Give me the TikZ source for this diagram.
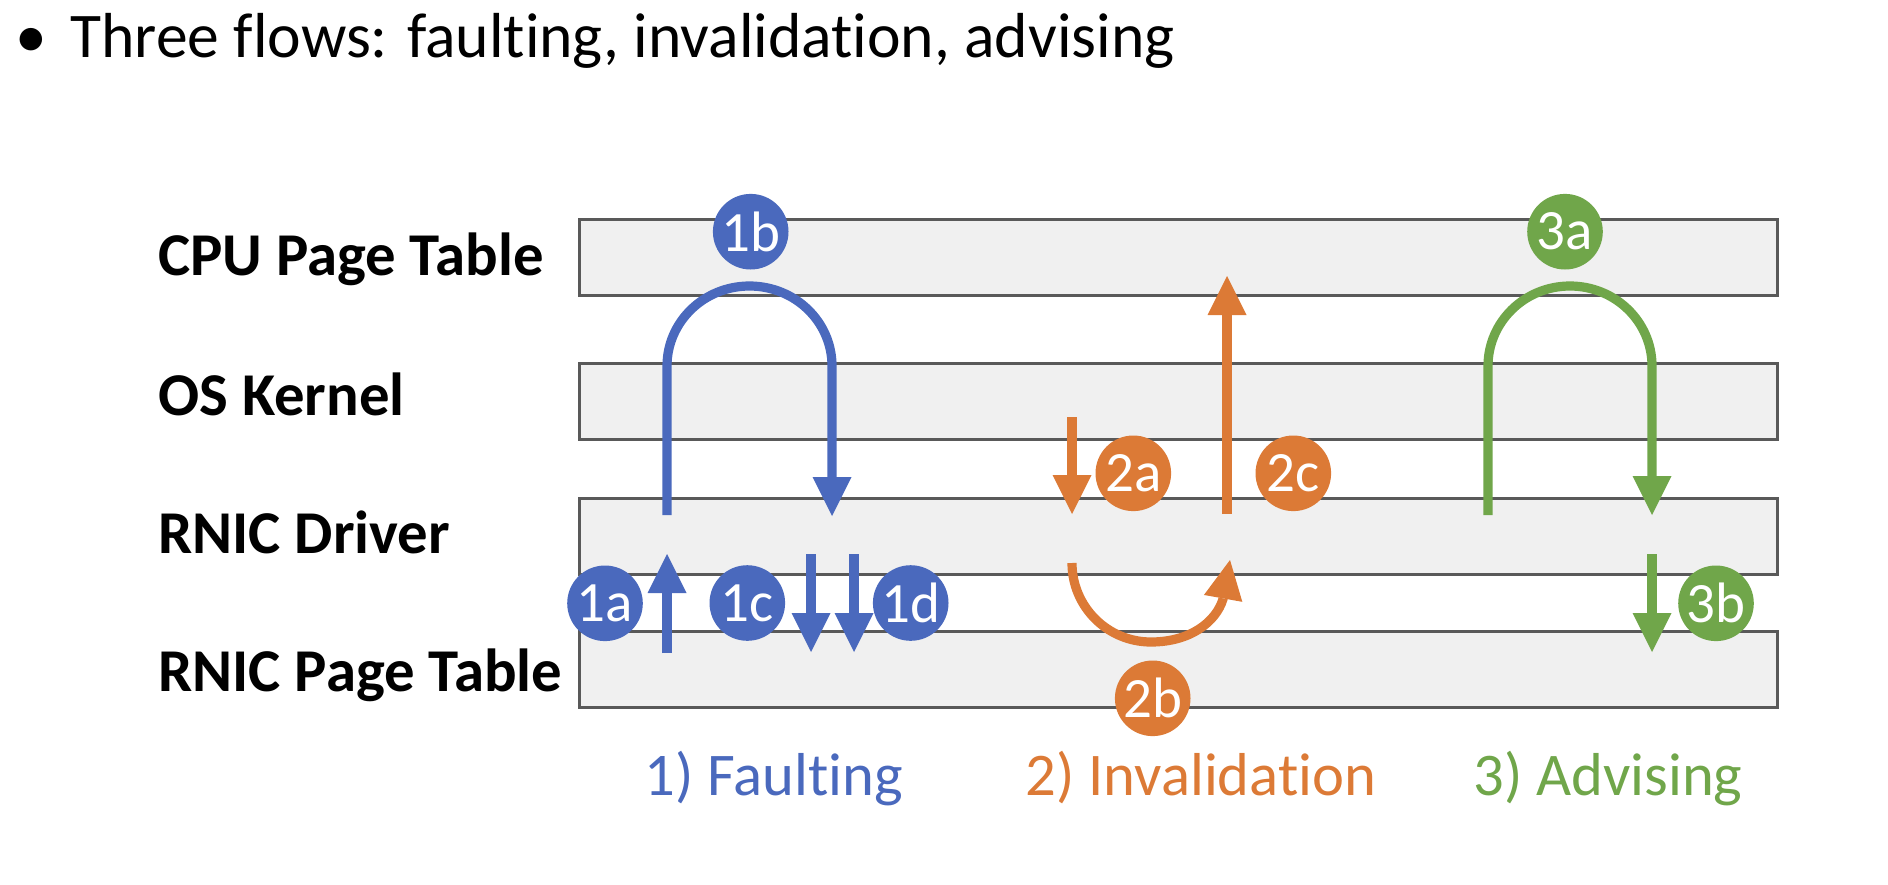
\documentclass[tikz,border=0pt]{standalone}
\usepackage{fontspec}
\setmainfont{Carlito}[Ligatures=NoCommon]
\usetikzlibrary{arrows.meta}
\definecolor{fblue}{HTML}{4A69BD}
\definecolor{forange}{HTML}{DC7A36}
\definecolor{fgreen}{HTML}{70A64A}
\definecolor{barfill}{HTML}{F0F0F0}
\definecolor{barline}{HTML}{595959}

\begin{document}
\begin{tikzpicture}[x=0.5pt,y=0.5pt,
  bar/.style={draw=barline, line width=1.5pt, fill=barfill, minimum width=599pt,
    minimum height=38pt, inner sep=0pt, outer sep=0pt},
  layername/.style={anchor=base west, inner sep=0pt,
    font=\fontsize{30.4pt}{36pt}\selectfont\bfseries},
  badge/.style={circle, fill=#1, text=white, minimum size=37.8pt, inner sep=0pt,
    font=\fontsize{28.5pt}{32pt}\selectfont},
  flow/.style={draw=#1, line width=4.6pt,
    -{Triangle[width=19.5pt,length=19.5pt,line width=0pt]}},
  flowcap/.style={anchor=base, inner sep=0pt, text=#1,
    font=\fontsize{30.3pt}{36pt}\selectfont},
  headtext/.style={inner sep=0pt, font=\fontsize{31.8pt}{38pt}\selectfont},
]
\useasboundingbox (0,0) rectangle (1888,-884);

% heading
\node[headtext, anchor=base] (dot) at (31.5,-57) {\textbullet};
\node[headtext, anchor=base west] (head) at (70,-57)
  {Three flows: faulting, invalidation, advising};

% layers
\node[bar] (cpu) at (1178,-257.5) {};
\node[bar] (os)  at (1178,-401)   {};
\node[bar] (drv) at (1178,-536)   {};
\node[bar] (rpt) at (1178,-669.5) {};

\node[layername] (cpu-l) at (158,-275) {CPU Page Table};
\node[layername] (os-l)  at (158,-415) {OS Kernel};
\node[layername] (drv-l) at (158,-553) {RNIC Driver};
\node[layername] (rpt-l) at (158,-691) {RNIC Page Table};

% 1) faulting
\coordinate (f1a-s) at (667,-653);
\coordinate (f1a-e) at (667,-554);
\draw[flow=fblue] (f1a-s) -- (f1a-e);

\coordinate (f1b-s) at (667,-515);
\coordinate (f1b-l) at (667,-366);
\coordinate (f1b-e) at (832,-516);
\draw[flow=fblue] (f1b-s) -- (f1b-l)
  arc[start angle=180, end angle=0, x radius=41.25pt, y radius=40pt] -- (f1b-e);

\coordinate (f1c-s) at (811,-554);
\coordinate (f1c-e) at (811,-652);
\draw[flow=fblue] (f1c-s) -- (f1c-e);
\coordinate (f1d-s) at (854,-554);
\coordinate (f1d-e) at (854,-652);
\draw[flow=fblue] (f1d-s) -- (f1d-e);

% 2) invalidation
\coordinate (f2a-s) at (1072,-417);
\coordinate (f2a-e) at (1072,-514);
\draw[flow=forange] (f2a-s) -- (f2a-e);

\coordinate (f2b-s) at (1072,-563);
\coordinate (f2b-m) at (1223,-599);
\coordinate (f2b-e) at (1230,-560);
\draw[flow=forange] (f2b-s) arc[start angle=180, end angle=270, radius=39.5pt]
  .. controls (1190,-642) and (1216,-622) .. (f2b-m) -- (f2b-e);

\coordinate (f2c-s) at (1227,-514);
\coordinate (f2c-e) at (1227,-276);
\draw[flow=forange] (f2c-s) -- (f2c-e);

% 3) advising
\coordinate (f3a-s) at (1488,-515);
\coordinate (f3a-l) at (1488,-366);
\coordinate (f3a-e) at (1652,-515);
\draw[flow=fgreen] (f3a-s) -- (f3a-l)
  arc[start angle=180, end angle=0, x radius=41pt, y radius=40pt] -- (f3a-e);

\coordinate (f3b-s) at (1652,-554);
\coordinate (f3b-e) at (1652,-652);
\draw[flow=fgreen] (f3b-s) -- (f3b-e);

% step badges
\node[badge=fblue] (b1a) at (605,-603.3) {1a};
\node[badge=fblue] (b1b) at (750.7,-231.7) {1b};
\node[badge=fblue] (b1c) at (747.3,-603) {1c};
\node[badge=fblue] (b1d) at (910.7,-603) {1d};
\node[badge=forange] (b2a) at (1133.3,-473.3) {2a};
\node[badge=forange] (b2b) at (1152.7,-698.3) {2b};
\node[badge=forange] (b2c) at (1293.3,-473.3) {2c};
\node[badge=fgreen] (b3a) at (1565,-231.7) {3a};
\node[badge=fgreen] (b3b) at (1716,-603.3) {3b};

% flow captions
\node[flowcap=fblue]   (c1) at (774,-795)  {1) Faulting};
\node[flowcap=forange] (c2) at (1201,-795) {2) Invalidation};
\node[flowcap=fgreen]  (c3) at (1608,-795) {3) Advising};
\end{tikzpicture}
\end{document}
